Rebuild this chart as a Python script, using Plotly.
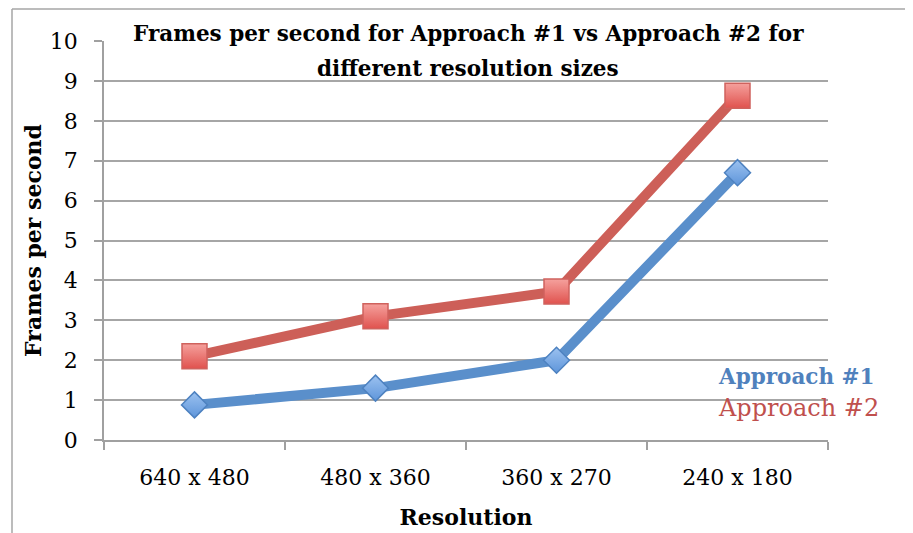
import plotly.graph_objects as go

categories = ["640 x 480", "480 x 360", "360 x 270", "240 x 180"]
approach1 = [0.88, 1.3, 2.0, 6.7]
approach2 = [2.1, 3.1, 3.72, 8.63]
y_ticks = list(range(0, 11))

# page body has an 8px margin; figure is sized so that the page matches 913x533
OFF = 8
W, H = 913 - OFF, 533 - OFF
L, T = 104 - OFF, 41 - OFF
R = OFF + W - 828
B = OFF + H - 440
pw, ph = W - L - R, H - T - B

def px_x(x):  # page pixel -> paper
    return (x - OFF - L) / pw

def px_y(y):
    return 1 - (y - OFF - T) / ph

FONT = "DejaVu Serif"
blue_line = "#5A8FCB"
red_line = "#CD5F58"

fig = go.Figure()
fig.add_trace(go.Scatter(
    x=categories, y=approach2, mode="lines+markers", name="Approach #2",
    line=dict(color=red_line, width=10),
    marker=dict(symbol="square", size=25, color="#F5A19D",
                line=dict(color="#CF625D", width=1.5),
                gradient=dict(type="vertical", color="#E0524E")),
))
fig.add_trace(go.Scatter(
    x=categories, y=approach1, mode="lines+markers", name="Approach #1",
    line=dict(color=blue_line, width=10),
    marker=dict(symbol="diamond", size=20, color="#9CC2F0",
                line=dict(color="#4E82C0", width=1.5),
                gradient=dict(type="vertical", color="#5E95DA")),
))

fig.update_layout(
    width=W, height=H,
    margin=dict(l=L, r=R, t=T, b=B),
    paper_bgcolor="white", plot_bgcolor="white",
    showlegend=False,
    font=dict(family=FONT, size=20, color="black"),
    xaxis=dict(
        type="category", range=[-0.5, 3.5], automargin=False,
        showgrid=False, showline=True, linecolor="#A0A0A0", linewidth=1.5,
        ticks="outside", tickson="boundaries", ticklen=8, tickcolor="#A0A0A0",
        tickwidth=1.5, ticklabelstandoff=17,
        tickfont=dict(family=FONT, size=22),
        title=dict(text="<b>Resolution</b>", font=dict(family=FONT, size=22), standoff=20),
    ),
    yaxis=dict(
        range=[0, 10], tickvals=y_ticks, showgrid=True, gridcolor="#A6A6A6", gridwidth=1.5,
        showline=True, linecolor="#A0A0A0", linewidth=1.5, automargin=False,
        ticks="outside", ticklen=8, tickcolor="#A0A0A0", tickwidth=1.5,
        ticklabelstandoff=12,
        tickfont=dict(family=FONT, size=22),
        zeroline=False,
        title=dict(text="<b>Frames per second</b>", font=dict(family=FONT, size=22), standoff=2),
    ),
    annotations=[
        dict(xref="paper", yref="paper", x=px_x(468), y=px_y(34), xanchor="center", yanchor="middle",
             text="<b>Frames per second for Approach #1 vs Approach #2 for</b>",
             showarrow=False, font=dict(family=FONT, size=21.5, color="black")),
        dict(xref="paper", yref="paper", x=px_x(468), y=px_y(68), xanchor="center", yanchor="middle",
             text="<b>different resolution sizes</b>",
             showarrow=False, font=dict(family=FONT, size=21.5, color="black")),
        dict(xref="paper", yref="paper", x=px_x(716), y=px_y(376), xanchor="left", yanchor="middle",
             text="<b>Approach #1</b>", showarrow=False,
             font=dict(family=FONT, size=21.5, color="#4F81BD")),
        dict(xref="paper", yref="paper", x=px_x(716), y=px_y(408), xanchor="left", yanchor="middle",
             text="Approach #2", showarrow=False,
             font=dict(family=FONT, size=24, color="#C0504D")),
    ],
    shapes=[
        dict(type="line", xref="paper", yref="paper", x0=px_x(12), x1=px_x(913), y0=px_y(9), y1=px_y(9),
             line=dict(color="#A6A6A6", width=1.5)),
        dict(type="line", xref="paper", yref="paper", x0=px_x(12), x1=px_x(12), y0=px_y(9), y1=px_y(533),
             line=dict(color="#A6A6A6", width=1.5)),
    ],
)

fig.write_html("out.html")
